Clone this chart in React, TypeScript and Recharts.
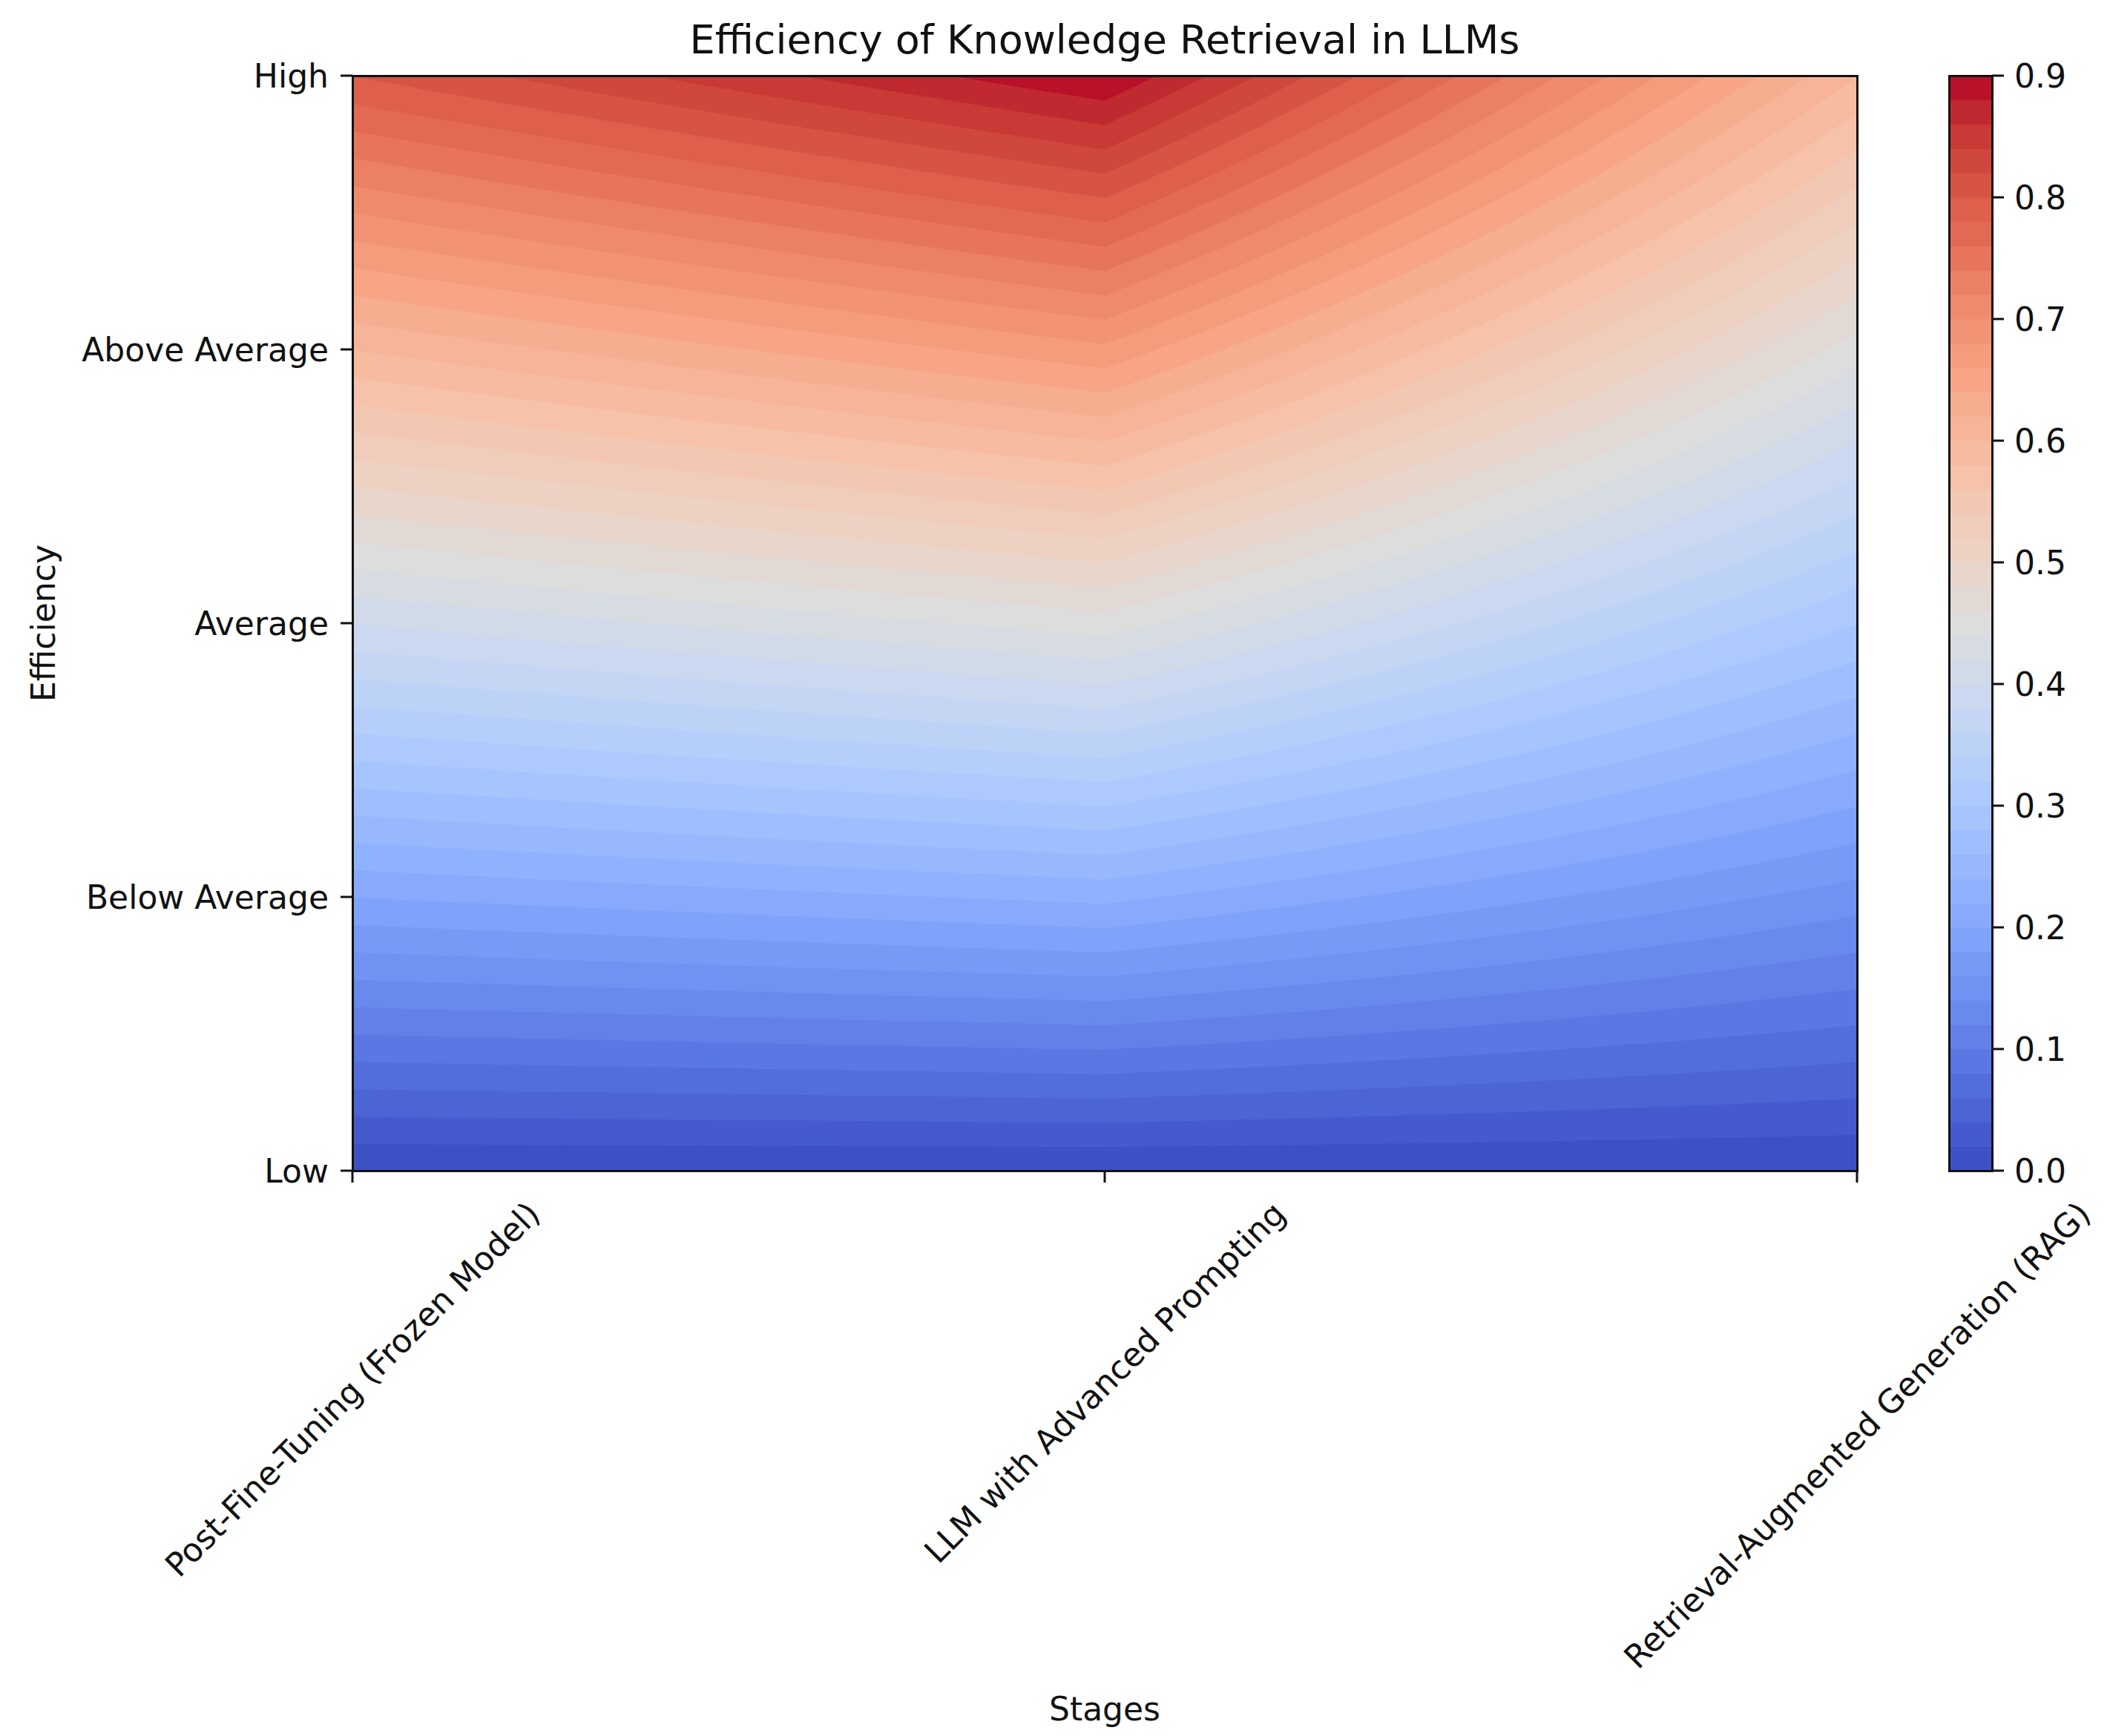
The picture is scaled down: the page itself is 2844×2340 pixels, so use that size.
import React from "react";
import { ComposedChart, Area, XAxis, YAxis, BarChart, Bar } from "recharts";

// ---- data ----
const stages = [
	"Post-Fine-Tuning (Frozen Model)",
	"LLM with Advanced Prompting",
	"Retrieval-Augmented Generation (RAG)",
];
const efficiencyLevels = ["Low", "Below Average", "Average", "Above Average", "High"];

// score at each efficiency level (Low -> High), one list per stage
const postFineTuningScores = [0, 0.2, 0.4, 0.6, 0.8];
const advancedPromptingScores = [0, 0.225, 0.45, 0.675, 0.9];
const ragScores = [0, 0.15, 0.3, 0.45, 0.6];

const colorbarTicks = [0, 0.1, 0.2, 0.3, 0.4, 0.5, 0.6, 0.7, 0.8, 0.9];

const stageScores = [postFineTuningScores, advancedPromptingScores, ragScores];

// contour levels like matplotlib's auto levels (step 0.02 up to 0.9)
const LEVEL_STEP = 0.02;
const VMAX = 0.9;
const levels = Array.from({ length: 46 }, (_, i) => +(i * LEVEL_STEP).toFixed(2));

// ---- colormap (coolwarm) ----
const COOLWARM = [
	[59, 76, 192], [68, 90, 204], [77, 104, 215], [87, 117, 225], [98, 130, 234],
	[108, 142, 241], [119, 154, 247], [130, 165, 251], [141, 176, 254], [152, 185, 255],
	[163, 194, 255], [174, 201, 253], [184, 208, 249], [194, 213, 244], [204, 217, 238],
	[213, 219, 230], [221, 221, 221], [229, 216, 209], [236, 211, 197], [241, 204, 185],
	[245, 196, 173], [247, 187, 160], [247, 177, 148], [247, 166, 135], [244, 154, 123],
	[241, 141, 111], [236, 127, 99], [229, 112, 88], [222, 96, 77], [213, 80, 66],
	[203, 62, 56], [192, 40, 47], [180, 4, 38],
];

function coolwarm(t: number) {
	const c = Math.max(0, Math.min(1, t));
	const p = c * (COOLWARM.length - 1);
	const i = Math.min(Math.floor(p), COOLWARM.length - 2);
	const f = p - i;
	const a = COOLWARM[i];
	const b = COOLWARM[i + 1];
	const ch = (k: number) => Math.round(a[k] + (b[k] - a[k]) * f);
	return `rgb(${ch(0)},${ch(1)},${ch(2)})`;
}

const bandColors = levels.slice(0, -1).map((l, k) => coolwarm((l + levels[k + 1]) / 2 / VMAX));

// ---- contour bands built from the score grid ----
function columnAt(x: number) {
	const i = Math.min(Math.floor(x), stages.length - 2);
	const f = x - i;
	return efficiencyLevels.map(
		(_, j) => stageScores[i][j] * (1 - f) + stageScores[i + 1][j] * f
	);
}

function levelHeight(col: number[], level: number) {
	if (level <= col[0]) return 0;
	for (let j = 0; j < col.length - 1; j++) {
		if (level <= col[j + 1]) return j + (level - col[j]) / (col[j + 1] - col[j]);
	}
	return col.length - 1;
}

const SAMPLES = 200;
const contourData = Array.from({ length: SAMPLES + 1 }, (_, s) => {
	const x = (s / SAMPLES) * (stages.length - 1);
	const col = columnAt(x);
	const row: any = { x };
	for (let k = 0; k < levels.length - 1; k++) {
		row[`band${k}`] = [levelHeight(col, levels[k]), levelHeight(col, levels[k + 1])];
	}
	return row;
});

const colorbarRow: any = { name: "cb" };
levels.slice(0, -1).forEach((l, k) => {
	colorbarRow[`band${k}`] = levels[k + 1] - l;
});
const colorbarData = [colorbarRow];

// ---- layout ----
const W = 2844;
const H = 2340;
const PLOT = { left: 475, right: 2503, top: 102, bottom: 1578 };
const CBAR = { left: 2627, right: 2685 };
const FONT = "DejaVu Sans";
const TICK_SIZE = 44;
const TEXT = "#111";

let measureCtx: CanvasRenderingContext2D | null = null;
function textWidth(s: string, size: number) {
	if (!measureCtx && typeof document !== "undefined") {
		measureCtx = document.createElement("canvas").getContext("2d");
	}
	if (!measureCtx) return s.length * size * 0.55;
	measureCtx.font = `${size}px "${FONT}"`;
	return measureCtx.measureText(s).width;
}

const StageTick = ({ x, y, payload }: any) => {
	const label = stages[payload.value];
	if (!label) return null;
	const w = textWidth(label, TICK_SIZE);
	const h = TICK_SIZE * 1.16;
	const box = (w + h) * Math.SQRT1_2;
	const cy = y + box / 2;
	return (
		<text
			x={x}
			y={cy}
			transform={`rotate(-45 ${x} ${cy})`}
			textAnchor="middle"
			dominantBaseline="central"
			fontSize={TICK_SIZE}
			fontFamily={FONT}
			fill={TEXT}
		>
			{label}
		</text>
	);
};

const tickStyle = { fill: TEXT, fontSize: TICK_SIZE, fontFamily: FONT };
const tickLineStyle = { stroke: TEXT, strokeWidth: 3 };

export default function App() {
	const yAxisWidth = 400;
	const xAxisHeight = 600;
	const cbAxisWidth = W - CBAR.left - (CBAR.right - CBAR.left);

	return (
		<div
			style={{
				position: "absolute",
				left: 0,
				top: 0,
				width: W,
				height: H,
				background: "#fff",
				fontFamily: FONT,
			}}
		>
			<ComposedChart
				width={W}
				height={H}
				data={contourData}
				margin={{
					top: PLOT.top,
					left: PLOT.left - yAxisWidth,
					right: W - PLOT.right,
					bottom: H - PLOT.bottom - xAxisHeight,
				}}
			>
				<XAxis
					dataKey="x"
					type="number"
					domain={[0, stages.length - 1]}
					ticks={[0, 1, 2]}
					allowDataOverflow
					height={xAxisHeight}
					axisLine={false}
					tickLine={tickLineStyle}
					tickSize={16}
					tickMargin={16}
					tick={<StageTick />}
					interval={0}
				/>
				<YAxis
					type="number"
					domain={[0, efficiencyLevels.length - 1]}
					ticks={[0, 1, 2, 3, 4]}
					allowDataOverflow
					width={yAxisWidth}
					axisLine={false}
					tickLine={tickLineStyle}
					tickSize={16}
					tickMargin={16}
					tick={tickStyle}
					tickFormatter={(v: number) => efficiencyLevels[v]}
					interval={0}
				/>
				{bandColors.map((color, k) => (
					<Area
						key={`band${k}`}
						dataKey={`band${k}`}
						type="linear"
						fill={color}
						fillOpacity={1}
						stroke={color}
						strokeWidth={2}
						dot={false}
						activeDot={false}
						isAnimationActive={false}
					/>
				))}
			</ComposedChart>

			<div style={{ position: "absolute", left: CBAR.left, top: 0 }}>
				<BarChart
					width={W - CBAR.left}
					height={H}
					data={colorbarData}
					barCategoryGap={0}
					barGap={0}
					margin={{ top: PLOT.top, bottom: H - PLOT.bottom, left: 0, right: 0 }}
				>
					<XAxis dataKey="name" hide />
					<YAxis
						orientation="right"
						type="number"
						domain={[0, VMAX]}
						ticks={colorbarTicks}
						allowDataOverflow
						width={cbAxisWidth}
						axisLine={false}
						tickLine={tickLineStyle}
						tickSize={16}
						tickMargin={14}
						tick={tickStyle}
						tickFormatter={(v: number) => v.toFixed(1)}
						interval={0}
					/>
					{bandColors.map((color, k) => (
						<Bar
							key={`cb${k}`}
							dataKey={`band${k}`}
							stackId="cb"
							fill={color}
							stroke={color}
							strokeWidth={1}
							isAnimationActive={false}
						/>
					))}
				</BarChart>
			</div>

			{/* spines */}
			<div
				style={{
					position: "absolute",
					left: PLOT.left - 1.5,
					top: PLOT.top - 1.5,
					width: PLOT.right - PLOT.left + 3,
					height: PLOT.bottom - PLOT.top + 3,
					border: `3px solid ${TEXT}`,
					boxSizing: "border-box",
					pointerEvents: "none",
				}}
			/>
			<div
				style={{
					position: "absolute",
					left: CBAR.left - 1.5,
					top: PLOT.top - 1.5,
					width: CBAR.right - CBAR.left + 3,
					height: PLOT.bottom - PLOT.top + 3,
					border: `3px solid ${TEXT}`,
					boxSizing: "border-box",
					pointerEvents: "none",
				}}
			/>

			<svg
				width={W}
				height={H}
				style={{ position: "absolute", left: 0, top: 0, pointerEvents: "none" }}
			>
				<text
					x={(PLOT.left + PLOT.right) / 2}
					y={72}
					textAnchor="middle"
					fontSize={54}
					fontFamily={FONT}
					fill={TEXT}
				>
					Efficiency of Knowledge Retrieval in LLMs
				</text>
				<text
					x={(PLOT.left + PLOT.right) / 2}
					y={2303}
					textAnchor="middle"
					dominantBaseline="central"
					fontSize={TICK_SIZE}
					fontFamily={FONT}
					fill={TEXT}
				>
					Stages
				</text>
				<text
					x={58}
					y={(PLOT.top + PLOT.bottom) / 2}
					transform={`rotate(-90 58 ${(PLOT.top + PLOT.bottom) / 2})`}
					textAnchor="middle"
					dominantBaseline="central"
					fontSize={TICK_SIZE}
					fontFamily={FONT}
					fill={TEXT}
				>
					Efficiency
				</text>
			</svg>
		</div>
	);
}
